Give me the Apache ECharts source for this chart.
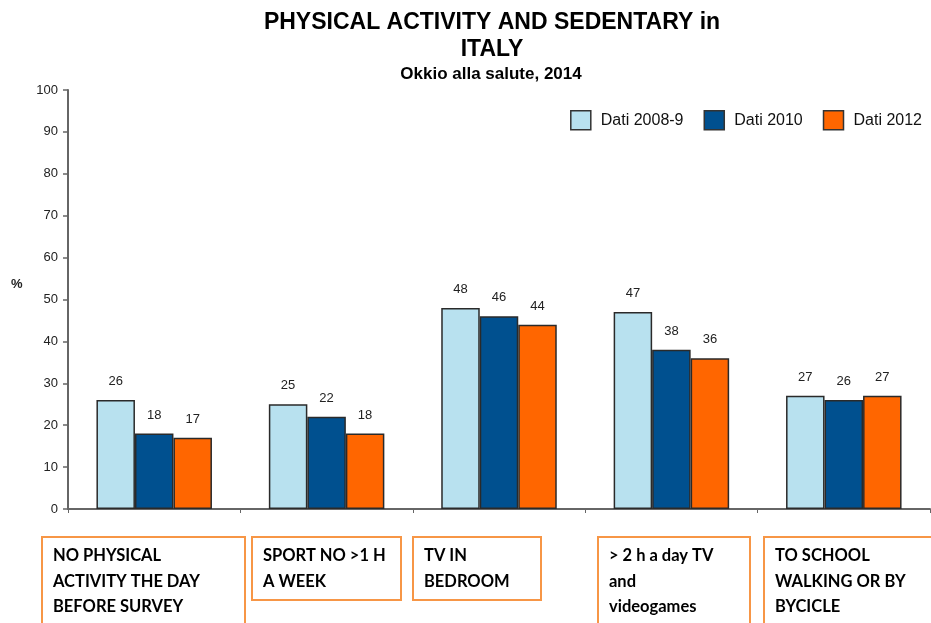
<!DOCTYPE html>
<html>
<head>
<meta charset="utf-8">
<title>Physical activity and sedentary in Italy</title>
<script src="https://cdn.jsdelivr.net/npm/echarts@6/dist/echarts.min.js"></script>
<style>
  html, body { margin: 0; padding: 0; background: #fff; }
  #chart { width: 931px; height: 623px; }
</style>
</head>
<body>
<div id="chart"></div>
<script>
// Indicators (one group of bars each) and their boxed captions
const categories = [
  'NO PHYSICAL\nACTIVITY THE DAY\nBEFORE SURVEY',
  'SPORT NO >1 H\nA WEEK',
  'TV IN\nBEDROOM',
  '> 2 h a day TV\nand\nvideogames',
  'TO SCHOOL\nWALKING OR BY\nBYCICLE'
];

// Survey waves
const seriesNames = ['Dati 2008-9', 'Dati 2010', 'Dati 2012'];

// Percentages per wave
const dati2008 = [26, 25, 48, 47, 27];
const dati2010 = [18, 22, 46, 38, 26];
const dati2012 = [17, 18, 44, 36, 27];

const yTicks = [0, 10, 20, 30, 40, 50, 60, 70, 80, 90, 100];

const colors = ['#b8e1ef', '#00508f', '#ff6600'];
const values = [dati2008, dati2010, dati2012];

const chart = echarts.init(document.getElementById('chart'));

// caption boxes below the axis: [left, width, height]
const boxLayout = [
  [41, 203, 92],
  [251, 149, 63],
  [412, 128, 63],
  [597, 152, 92],
  [763, 172, 92]
];

const captionGraphics = categories.map((label, i) => {
  const [x, w, h] = boxLayout[i];
  return {
    type: 'group',
    left: x,
    top: 536,
    children: [
      {
        type: 'rect',
        shape: { x: 0, y: 0, width: w, height: h },
        style: { fill: '#fff', stroke: '#f79646', lineWidth: 2 }
      },
      {
        type: 'text',
        x: 11,
        y: 6,
        style: {
          text: label,
          font: 'bold 16.5px Lato, "Open Sans", sans-serif',
          fill: '#000',
          lineHeight: 25.5
        }
      }
    ]
  };
});

const sansFont = 'Liberation Sans, Arial, sans-serif';

chart.setOption({
  animation: false,
  color: colors,
  title: [
    {
      text: 'PHYSICAL ACTIVITY AND SEDENTARY in\nITALY',
      left: 487,
      top: 4,
      textAlign: 'center',
      textStyle: {
        fontFamily: sansFont,
        fontWeight: 'bold',
        fontSize: 23,
        lineHeight: 27,
        color: '#000'
      }
    },
    {
      text: 'Okkio alla salute, 2014',
      left: 486,
      top: 61,
      textAlign: 'center',
      textStyle: {
        fontFamily: sansFont,
        fontWeight: 'bold',
        fontSize: 17,
        color: '#000'
      }
    }
  ],
  legend: {
    data: seriesNames,
    right: 4,
    top: 105,
    itemWidth: 20,
    itemHeight: 19,
    itemGap: 20,
    icon: 'rect',
    textStyle: {
      fontFamily: sansFont,
      fontSize: 16,
      color: '#111',
      padding: [0, 0, 0, 5]
    },
    itemStyle: { borderColor: '#333', borderWidth: 1.5 }
  },
  grid: { left: 68, right: 1, top: 90, bottom: 114 },
  xAxis: {
    type: 'category',
    data: categories,
    axisLine: { lineStyle: { color: '#666', width: 2 } },
    axisTick: { show: true, alignWithLabel: false, length: 4, lineStyle: { color: '#666' } },
    axisLabel: { show: false }
  },
  yAxis: {
    type: 'value',
    min: yTicks[0],
    max: yTicks[yTicks.length - 1],
    interval: yTicks[1] - yTicks[0],
    splitLine: { show: false },
    axisLine: { show: true, lineStyle: { color: '#666', width: 2 } },
    axisTick: { show: true, length: 5, lineStyle: { color: '#666', width: 1.5 } },
    axisLabel: {
      margin: 10,
      fontFamily: sansFont,
      fontSize: 13,
      color: '#222'
    }
  },
  series: seriesNames.map((name, i) => ({
    name,
    type: 'bar',
    data: values[i],
    barGap: '0%',
    barCategoryGap: '33%',
    itemStyle: { color: colors[i], borderColor: '#2a2a2a', borderWidth: 1.5 },
    label: {
      show: true,
      position: 'top',
      distance: 12,
      fontFamily: sansFont,
      fontSize: 13,
      color: '#222'
    }
  })),
  graphic: [
    {
      type: 'text',
      left: 11,
      top: 278,
      style: {
        text: '%',
        font: 'bold 13px "Liberation Sans", Arial, sans-serif',
        fill: '#222'
      }
    },
    ...captionGraphics
  ]
});
</script>
</body>
</html>
